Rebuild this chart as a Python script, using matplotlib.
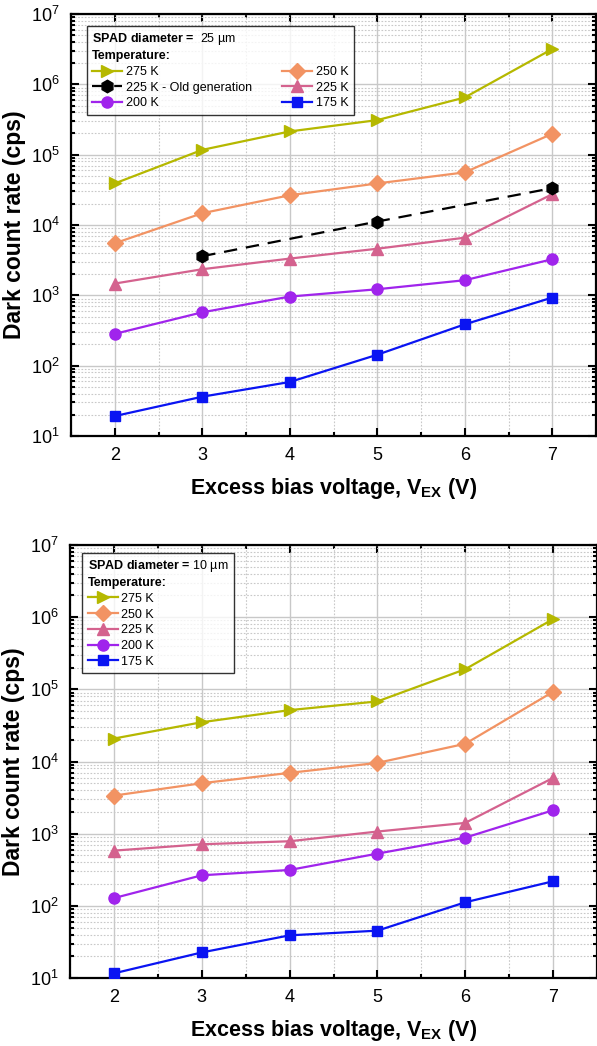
import matplotlib
matplotlib.use("Agg")
import matplotlib.pyplot as plt
from matplotlib.ticker import LogLocator, MultipleLocator, FixedLocator, NullFormatter

plt.rcParams['font.family'] = ['Liberation Sans', 'DejaVu Sans']
plt.rcParams['mathtext.fontset'] = 'custom'
plt.rcParams['mathtext.rm'] = 'Liberation Sans'
plt.rcParams['mathtext.it'] = 'Liberation Sans'
plt.rcParams['mathtext.bf'] = 'Liberation Sans:bold'

# ---------------- data ----------------
vex = [2, 3, 4, 5, 6, 7]

# 25 um SPAD
top_275 = [3.9e4, 1.17e5, 2.14e5, 3.1e5, 6.5e5, 3.18e6]
top_250 = [5.5e3, 1.47e4, 2.65e4, 3.9e4, 5.6e4, 1.98e5]
top_old_x = [3, 5, 7]
top_old = [3.6e3, 1.12e4, 3.34e4]
top_225 = [1.47e3, 2.35e3, 3.33e3, 4.6e3, 6.6e3, 2.74e4]
top_200 = [283, 574, 960, 1.22e3, 1.64e3, 3.26e3]
top_175 = [19.2, 36.2, 58.6, 143, 387, 929]

# 10 um SPAD
bot_275 = [2.08e4, 3.5e4, 5.15e4, 6.8e4, 1.9e5, 9.4e5]
bot_250 = [3.37e3, 5.0e3, 6.96e3, 9.57e3, 1.76e4, 9.25e4]
bot_225 = [582, 713, 785, 1.07e3, 1.41e3, 5.93e3]
bot_200 = [128, 265, 314, 529, 881, 2.11e3]
bot_175 = [11.6, 22.6, 39, 45.3, 112, 219]

labels = ['275 K', '250 K', '225 K', '200 K', '175 K']
old_label = '225 K - Old generation'
colors = ['#B5B800', '#F29363', '#D4628E', '#A024EC', '#0A14F2']
markers = ['>', 'D', '^', 'o', 's']
msizes = [9, 8, 8.5, 8, 7]

fig = plt.figure(figsize=(5.97, 10.46), dpi=100)
ax1 = fig.add_axes([71/597, 1-436/1046, 525/597, 422/1046])
ax2 = fig.add_axes([70/597, 1-978/1046, 527/597, 433/1046])


def style(ax):
    ax.set_yscale('log')
    ax.set_xlim(1.5, 7.5)
    ax.set_ylim(1e1, 1e7)
    ax.xaxis.set_major_locator(FixedLocator(vex))
    ax.xaxis.set_minor_locator(MultipleLocator(0.5))
    ax.yaxis.set_major_locator(LogLocator(base=10, numticks=10))
    ax.yaxis.set_minor_locator(LogLocator(base=10, subs=range(2, 10), numticks=20))
    ax.yaxis.set_minor_formatter(NullFormatter())
    ax.grid(which='major', color='#c8c8c8', lw=1.0, ls='-', zorder=0)
    ax.grid(which='minor', color='#c8c8c8', lw=0.8, ls=(0, (1.5, 1.5)), zorder=0)
    ax.set_axisbelow(True)
    ax.tick_params(which='both', direction='in', top=True, right=True,
                   labelsize=13, width=1.5, pad=8)
    ax.tick_params(which='major', length=6)
    ax.tick_params(which='minor', length=3)
    for s in ax.spines.values():
        s.set_linewidth(1.6)
    ax.set_ylabel('Dark count rate (cps)', fontsize=16.5, fontweight='bold')
    ax.set_xlabel(r'Excess bias voltage, V$_{\mathbf{EX}}$ (V)', fontsize=15.5,
                  fontweight='bold', labelpad=8.5)
    ax.yaxis.set_label_coords(-0.085, 0.5)


style(ax1)
style(ax2)

leg_kw = dict(loc='upper left', alignment='left', fontsize=9,
              title_fontproperties={'size': 9, 'weight': 'bold'},
              frameon=True, fancybox=False, edgecolor='black',
              handlelength=2.4, handletextpad=0.3,
              labelspacing=0.3, borderpad=0.45, borderaxespad=0)

top_series = [top_275, top_250, top_225, top_200, top_175]
h = {}
for lab, c, m, ms, ys in zip(labels, colors, markers, msizes, top_series):
    h[lab], = ax1.plot(vex, ys, color=c, marker=m, ms=ms, lw=1.6, label=lab, zorder=3)
h_old, = ax1.plot(top_old_x, top_old, color='black', ls=(0, (6, 4)), lw=1.6,
                  marker='h', ms=9, label=old_label, zorder=3)

handles = [h['275 K'], h_old, h['200 K'], h['250 K'], h['225 K'], h['175 K']]
leg1 = ax1.legend(handles=handles, ncol=2, bbox_to_anchor=(0.03, 0.972),
                  title='SPAD diameter =  $\\mathrm{25\\ µm}$\nTemperature:',
                  columnspacing=2.4, **leg_kw)
leg1.get_frame().set_linewidth(1.0)
leg1.get_title().set_linespacing(1.3)

bot_series = [bot_275, bot_250, bot_225, bot_200, bot_175]
hs = []
for lab, c, m, ms, ys in zip(labels, colors, markers, msizes, bot_series):
    l, = ax2.plot(vex, ys, color=c, marker=m, ms=ms, lw=1.6, label=lab, zorder=3)
    hs.append(l)
leg2 = ax2.legend(handles=hs, ncol=1, bbox_to_anchor=(0.023, 0.982),
                  title='SPAD diameter = $\\mathrm{10\\ µm}$\nTemperature:',
                  **leg_kw)
leg2.get_frame().set_linewidth(1.0)
leg2.get_title().set_linespacing(1.3)

fig.savefig('out.png', dpi=100)
